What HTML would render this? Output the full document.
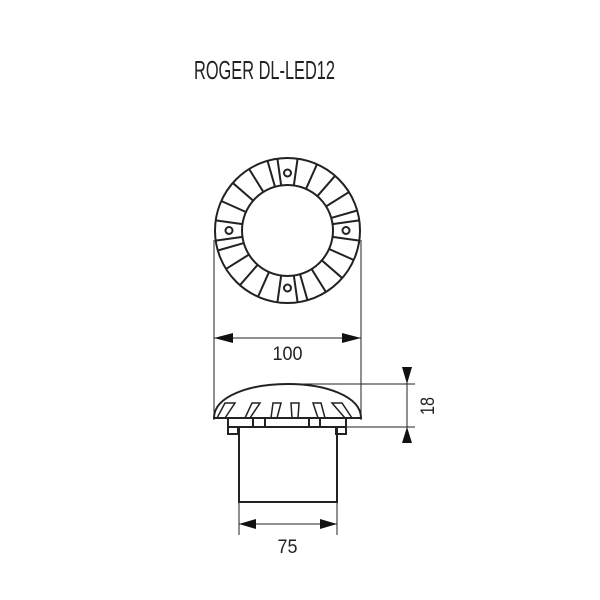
<!DOCTYPE html>
<html><head><style>body{margin:0;background:#fff}svg{display:block}</style></head><body>
<svg width="600" height="600" viewBox="0 0 600 600" xmlns="http://www.w3.org/2000/svg">
<rect width="600" height="600" fill="#fff"/>
<text x="194" y="79" font-family="Liberation Sans, sans-serif" font-size="26" textLength="141" lengthAdjust="spacingAndGlyphs" fill="#222">ROGER DL-LED12</text>
<g fill="none" stroke="#222" stroke-width="2">
<circle cx="287.5" cy="230.5" r="72.5"/>
<circle cx="287.5" cy="230.5" r="45.5"/>
<circle cx="287.5" cy="173" r="3.5"/>
<circle cx="287.5" cy="288" r="3.5"/>
<circle cx="229" cy="230.5" r="3.5"/>
<circle cx="346" cy="230.5" r="3.5"/>
<g id="sp">
<line x1="287.5" y1="185" x2="287.5" y2="158" transform="rotate(8 287.5 230.5)"/>
<line x1="287.5" y1="185" x2="287.5" y2="158" transform="rotate(24 287.5 230.5)"/>
<line x1="287.5" y1="185" x2="287.5" y2="158" transform="rotate(41 287.5 230.5)"/>
<line x1="287.5" y1="185" x2="287.5" y2="158" transform="rotate(58 287.5 230.5)"/>
<line x1="287.5" y1="185" x2="287.5" y2="158" transform="rotate(74 287.5 230.5)"/>
<line x1="287.5" y1="185" x2="287.5" y2="158" transform="rotate(82 287.5 230.5)"/>
</g>
<use href="#sp" transform="rotate(90 287.5 230.5)"/>
<use href="#sp" transform="rotate(180 287.5 230.5)"/>
<use href="#sp" transform="rotate(270 287.5 230.5)"/>
</g>
<g stroke="#222" stroke-width="1" fill="none">
<line x1="214" y1="240" x2="214" y2="420"/>
<line x1="361" y1="240" x2="361" y2="420"/>
<line x1="214" y1="338" x2="361" y2="338"/>
<line x1="300" y1="384" x2="415" y2="384"/>
<line x1="346" y1="427" x2="415" y2="427"/>
<line x1="407" y1="367" x2="407" y2="443"/>
<line x1="239" y1="502" x2="239" y2="535"/>
<line x1="337" y1="502" x2="337" y2="535"/>
<line x1="239" y1="524" x2="337" y2="524"/>
</g>
<g fill="#111">
<polygon points="214,338 233,333 233,343"/>
<polygon points="361,338 342,333 342,343"/>
<polygon points="402,367 412,367 407,384"/>
<polygon points="402,443 412,443 407,427"/>
<polygon points="239,524 256,519 256,529"/>
<polygon points="337,524 320,519 320,529"/>
</g>
<g font-family="Liberation Sans, sans-serif" font-size="19" fill="#222">
<text x="287.5" y="360" text-anchor="middle" textLength="30" lengthAdjust="spacingAndGlyphs">100</text>
<text x="287.5" y="553" text-anchor="middle" textLength="20" lengthAdjust="spacingAndGlyphs">75</text>
<text transform="translate(434 406) rotate(-90)" text-anchor="middle" textLength="18" lengthAdjust="spacingAndGlyphs">18</text>
</g>
<g fill="none" stroke="#222" stroke-width="2">
<path d="M214,418 C214,396 250,384 288,384 C325,384 361,396 361,418 Z"/>
<rect x="228" y="418" width="118" height="9"/>
<rect x="228" y="427" width="10" height="7"/>
<rect x="336" y="427" width="10" height="7"/>
<rect x="253" y="418" width="12" height="9"/>
<rect x="309" y="418" width="11" height="9"/>
<rect x="239" y="427" width="98" height="75"/>
</g>
<g fill="none" stroke="#222" stroke-width="1.5">
<path d="M217,418 L225,403 L235,403 L225,418"/>
<path d="M245,418 L252,403 L260,403 L250,418"/>
<path d="M271,418 L273,403 L281,403 L277,418"/>
<path d="M292,418 L291,403 L299,403 L298,418"/>
<path d="M318,418 L313,403 L321,403 L325,418"/>
<path d="M345,418 L332,403 L342,403 L352,418"/>
</g>
</svg>
</body></html>
